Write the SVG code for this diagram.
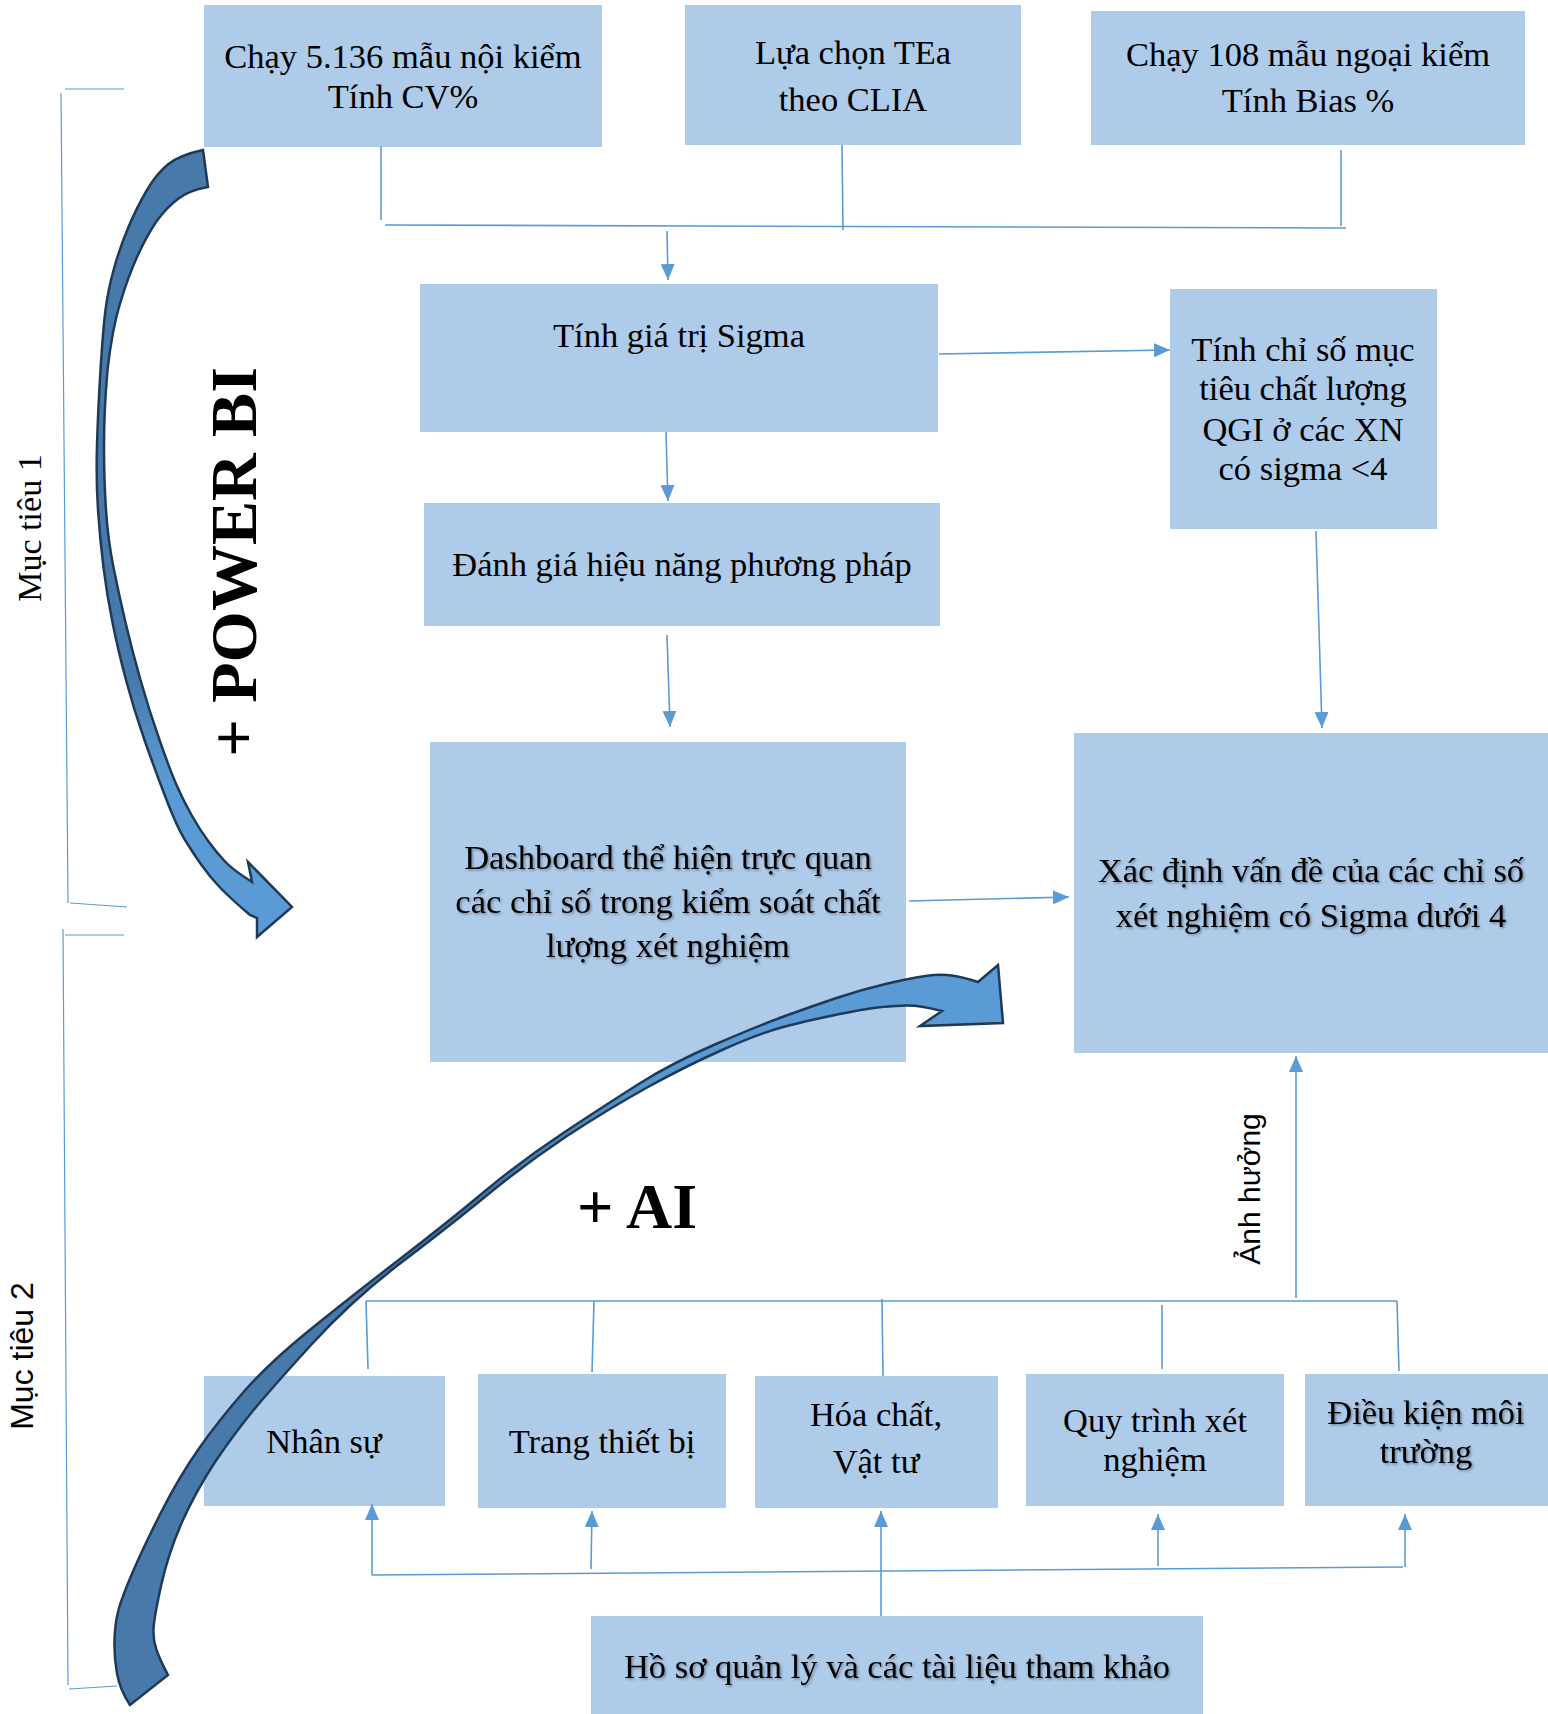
<svg xmlns="http://www.w3.org/2000/svg" width="1548" height="1714" viewBox="0 0 1548 1714">
<style>
.box{fill:#AECBEA;}
.t{font-family:"Liberation Serif","Times New Roman",serif;font-size:34.5px;fill:#000;text-anchor:middle;}
.ln{stroke:#5B9BD5;stroke-width:1.6;fill:none;}
.br{stroke:#5B9BD5;stroke-width:1.2;fill:none;}
.ar{stroke:#5B9BD5;stroke-width:1.6;fill:none;marker-end:url(#ah);}
.big{font-family:"Liberation Serif","Times New Roman",serif;font-weight:bold;fill:#000;}
.sh{filter:url(#shadow);}
</style>
<defs>
<marker id="ah" markerUnits="userSpaceOnUse" markerWidth="16" markerHeight="14" refX="16" refY="7" orient="auto">
<path d="M0,0 L16,7 L0,14 z" fill="#5B9BD5"/>
</marker>
<filter id="shadow" x="-10%" y="-30%" width="120%" height="160%">
<feDropShadow dx="1.5" dy="1.5" stdDeviation="1" flood-color="#000" flood-opacity="0.35"/>
</filter>
<linearGradient id="g1" gradientUnits="userSpaceOnUse" x1="0" y1="680" x2="0" y2="780">
<stop offset="0" stop-color="#477AAA"/>
<stop offset="1" stop-color="#5B9BD5"/>
</linearGradient>
<linearGradient id="g2" gradientUnits="userSpaceOnUse" x1="450" y1="1170" x2="700" y2="1050">
<stop offset="0" stop-color="#477AAA"/>
<stop offset="1" stop-color="#5B9BD5"/>
</linearGradient>
</defs>
<rect width="1548" height="1714" fill="#fff"/>

<g id="node-cv">
<rect class="box" x="204" y="5" width="398" height="142"/>
<text class="t" x="403" y="68">Chạy 5.136 mẫu nội kiểm</text>
<text class="t" x="403" y="108">Tính CV%</text>
</g>
<g id="node-tea">
<rect class="box" x="685" y="5" width="336" height="140"/>
<text class="t" x="853" y="64">Lựa chọn TEa</text>
<text class="t" x="853" y="111">theo CLIA</text>
</g>
<g id="node-bias">
<rect class="box" x="1091" y="11" width="434" height="134"/>
<text class="t" x="1308" y="66">Chạy 108 mẫu ngoại kiểm</text>
<text class="t" x="1308" y="112">Tính Bias %</text>
</g>
<g id="node-sigma">
<rect class="box" x="420" y="284" width="518" height="148"/>
<text class="t" x="679" y="347">Tính giá trị Sigma</text>
</g>
<g id="node-qgi">
<rect class="box" x="1170" y="289" width="267" height="240"/>
<text class="t" x="1303" y="361">Tính chỉ số mục</text>
<text class="t" x="1303" y="400">tiêu chất lượng</text>
<text class="t" x="1303" y="441">QGI ở các XN</text>
<text class="t" x="1303" y="480">có sigma &lt;4</text>
</g>
<g id="node-perf">
<rect class="box" x="424" y="503" width="516" height="123"/>
<text class="t" x="682" y="576">Đánh giá hiệu năng phương pháp</text>
</g>
<g id="node-dashboard">
<rect class="box" x="430" y="742" width="476" height="320"/>
<text class="t sh" x="668" y="869">Dashboard thể hiện trực quan</text>
<text class="t sh" x="668" y="913">các chỉ số trong kiểm soát chất</text>
<text class="t sh" x="668" y="957">lượng xét nghiệm</text>
</g>
<g id="node-problem">
<rect class="box" x="1074" y="733" width="474" height="320"/>
<text class="t sh" x="1311" y="882">Xác định vấn đề của các chỉ số</text>
<text class="t sh" x="1311" y="927">xét nghiệm có Sigma dưới 4</text>
</g>
<g id="node-nhansu">
<rect class="box" x="204" y="1376" width="241" height="130"/>
<text class="t" x="324" y="1453">Nhân sự</text>
</g>
<g id="node-thietbi">
<rect class="box" x="478" y="1374" width="248" height="134"/>
<text class="t" x="602" y="1453">Trang thiết bị</text>
</g>
<g id="node-hoachat">
<rect class="box" x="755" y="1376" width="243" height="132"/>
<text class="t" x="876" y="1426">Hóa chất,</text>
<text class="t" x="876" y="1473">Vật tư</text>
</g>
<g id="node-quytrinh">
<rect class="box" x="1026" y="1374" width="258" height="132"/>
<text class="t" x="1155" y="1432">Quy trình xét</text>
<text class="t" x="1155" y="1471">nghiệm</text>
</g>
<g id="node-dieukien">
<rect class="box" x="1305" y="1374" width="243" height="132"/>
<text class="t sh" x="1426" y="1424">Điều kiện môi</text>
<text class="t sh" x="1426" y="1463">trường</text>
</g>
<g id="node-hoso">
<rect class="box" x="591" y="1616" width="612" height="98"/>
<text class="t sh" x="897" y="1678">Hồ sơ quản lý và các tài liệu tham khảo</text>
</g>

<g id="connectors">
<line class="ln" x1="381" y1="146" x2="381" y2="220"/>
<line class="ln" x1="385" y1="225" x2="1346" y2="228"/>
<line class="ln" x1="842" y1="145" x2="843" y2="230"/>
<line class="ln" x1="1341" y1="150" x2="1341" y2="226"/>
<line class="ar" x1="667" y1="231" x2="668" y2="280"/>
<line class="ar" x1="939" y1="354" x2="1170" y2="350"/>
<line class="ar" x1="666" y1="432" x2="668" y2="501"/>
<line class="ar" x1="667" y1="635" x2="670" y2="727"/>
<line class="ar" x1="909" y1="901" x2="1069" y2="897"/>
<line class="ar" x1="1316" y1="531" x2="1322" y2="728"/>
<line class="ar" x1="1296" y1="1298" x2="1296" y2="1056"/>
<line class="ln" x1="366" y1="1301" x2="1397" y2="1301"/>
<line class="ln" x1="366" y1="1301" x2="368" y2="1369"/>
<line class="ln" x1="594" y1="1301" x2="592" y2="1372"/>
<line class="ln" x1="882" y1="1299" x2="883" y2="1376"/>
<line class="ln" x1="1162" y1="1305" x2="1162" y2="1369"/>
<line class="ln" x1="1397" y1="1301" x2="1399" y2="1371"/>
<line class="ln" x1="372" y1="1575" x2="1403" y2="1567"/>
<line class="ar" x1="372" y1="1575" x2="372" y2="1504"/>
<line class="ar" x1="591" y1="1569" x2="592" y2="1511"/>
<line class="ar" x1="881" y1="1616" x2="881" y2="1511"/>
<line class="ar" x1="1158" y1="1566" x2="1158" y2="1514"/>
<line class="ar" x1="1405" y1="1567" x2="1405" y2="1514"/>
<text x="0" y="0" transform="translate(1260,1189) rotate(-90)" style="font-family:'Liberation Sans',Arial,sans-serif;font-size:30px;text-anchor:middle;fill:#000">Ảnh hưởng</text>
</g>

<g id="brackets">
<line class="br" x1="65" y1="89" x2="124" y2="89"/>
<line class="br" x1="61" y1="93" x2="68" y2="903"/>
<line class="br" x1="70" y1="903" x2="127" y2="907"/>
<line class="br" x1="65" y1="935" x2="124" y2="935"/>
<line class="br" x1="63" y1="929" x2="68" y2="1685"/>
<line class="br" x1="69" y1="1689" x2="117" y2="1686"/>
<text x="0" y="0" transform="translate(41,528) rotate(-90)" style="font-family:'Liberation Serif','Times New Roman',serif;font-size:34px;text-anchor:middle;fill:#000">Mục tiêu 1</text>
<text x="0" y="0" transform="translate(33,1356) rotate(-90)" style="font-family:'Liberation Sans',Arial,sans-serif;font-size:32px;text-anchor:middle;fill:#000">Mục tiêu 2</text>
</g>

<g id="arrow-powerbi">
<path fill="url(#g1)" stroke="#1F3A57" stroke-width="2.5" stroke-linejoin="miter" d="M203,150 Q180,155 168.5,164 Q157,173 147,190 Q137,207 128.5,227 Q120,247 114,268.5 Q108,290 105.5,310 Q103,330 100.5,370 Q98,410 97,445 Q96,480 98,510 Q100,540 103.5,567.5 Q107,595 112.5,622.5 Q118,650 126,680 Q134,710 144.5,740 Q155,770 166,798.5 Q177,827 185,840 Q193,853 201.5,865 Q210,877 220,887.5 Q230,898 250,915 L257,918 L257,937 L292,907 L248,862 L252,882 Q233,870 225,861.5 Q217,853 208.5,841.5 Q200,830 191.5,815 Q183,800 176.5,785 Q170,770 159.5,740 Q149,710 140.5,680 Q132,650 125.5,622.5 Q119,595 113.5,567.5 Q108,540 106,510 Q104,480 104,445 Q104,410 107.5,370 Q112,330 120,303.5 Q128,277 137,257 Q146,237 156,222 Q167,207 178.5,198.5 Q190,190 208,187 Z"/>
<text x="0" y="0" class="big" transform="translate(256,562) rotate(-90)" style="font-size:66px;text-anchor:middle">+ POWER BI</text>
</g>

<g id="arrow-ai">
<path fill="url(#g2)" stroke="#1F3A57" stroke-width="2.5" stroke-linejoin="miter" d="M130,1705 Q120,1690 117,1673.5 Q114,1657 114.5,1640 Q115,1623 118.5,1610 Q122,1597 133,1571.5 Q144,1546 161.5,1511.5 Q179,1477 199,1448.5 Q219,1420 244,1391.5 Q269,1363 308.5,1331 Q348,1299 398,1260.5 Q448,1222 484.5,1191.5 Q521,1161 564,1132.5 Q607,1104 639.5,1083.5 Q672,1063 716,1044 Q760,1025 785,1016 Q810,1007 835,998.5 Q860,990 885.5,984 Q911,978 925.5,976 Q940,974 951.5,975.5 Q963,977 978,982 L998,965 L1003,1023 L920,1026 L942,1011 Q930,1008 920.5,1006.5 Q911,1005 895.5,1006 Q880,1007 870,1008.5 Q860,1010 835,1015 Q810,1020 785,1026.5 Q760,1033 722,1050 Q686,1066 648,1087 Q610,1108 567,1136 Q525,1164 488.5,1194 Q452,1224 402,1262 Q352,1300 311,1345 Q270,1390 252,1412 Q234,1434 215,1462 Q196,1491 182,1522 Q168,1554 161,1586 Q154,1618 153.5,1629 Q153,1640 156.5,1650 Q160,1660 168,1675 Z"/>
<text class="big" x="577" y="1228" style="font-size:64px">+ AI</text>
</g>
</svg>
